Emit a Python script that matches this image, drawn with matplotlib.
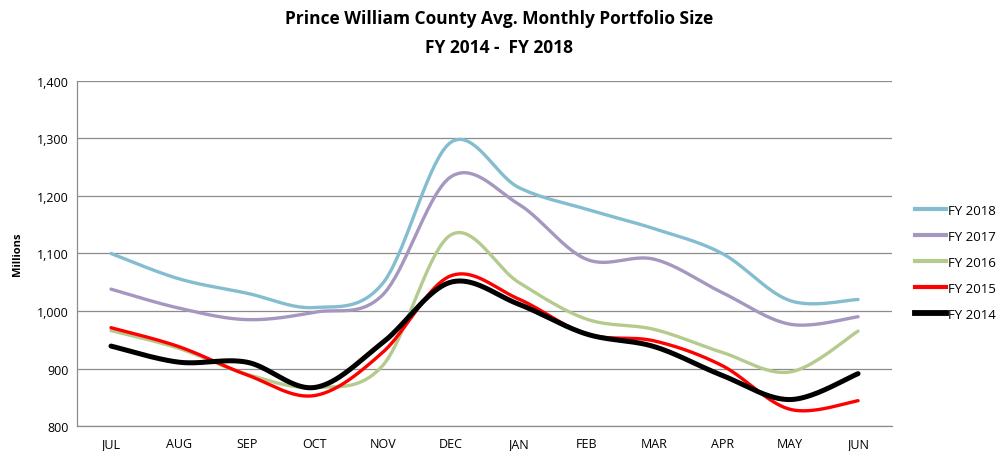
import numpy as np
import matplotlib
matplotlib.use("Agg")
import matplotlib.pyplot as plt
from matplotlib.lines import Line2D

plt.rcParams['font.family'] = ['Open Sans', 'DejaVu Sans']

months = ["JUL", "AUG", "SEP", "OCT", "NOV", "DEC", "JAN", "FEB", "MAR", "APR", "MAY", "JUN"]
fy2018 = [1100, 1056, 1031, 1006, 1048, 1293, 1215, 1177, 1143, 1100, 1018, 1020]
fy2017 = [1038, 1005, 985, 998, 1028, 1233, 1186, 1090, 1090, 1032, 977, 990]
fy2016 = [966, 935, 890, 867, 905, 1132, 1050, 986, 968, 928, 894, 965]
fy2015 = [971, 938, 889, 853, 928, 1061, 1021, 960, 948, 905, 829, 844]
fy2014 = [939, 911, 911, 867, 945, 1050, 1012, 960, 938, 888, 846, 891]

series = [
    ("FY 2018", fy2018, "#84BDD0", 2.4),
    ("FY 2017", fy2017, "#A597BF", 2.4),
    ("FY 2016", fy2016, "#B4CB8D", 2.4),
    ("FY 2015", fy2015, "#FF0000", 2.4),
    ("FY 2014", fy2014, "#000000", 3.6),
]


def smooth(xs, ys, n=40):
    # Catmull-Rom style bezier smoothing (like Excel smoothed lines)
    xs = np.asarray(xs, float)
    ys = np.asarray(ys, float)
    px = np.concatenate([[xs[0]], xs, [xs[-1]]])
    py = np.concatenate([[ys[0]], ys, [ys[-1]]])
    outx, outy = [], []
    for i in range(1, len(px) - 2):
        p0 = np.array([px[i - 1], py[i - 1]])
        p1 = np.array([px[i], py[i]])
        p2 = np.array([px[i + 1], py[i + 1]])
        p3 = np.array([px[i + 2], py[i + 2]])
        c1 = p1 + (p2 - p0) / 6.0
        c2 = p2 - (p3 - p1) / 6.0
        t = np.linspace(0, 1, n)[:, None]
        b = ((1 - t) ** 3) * p1 + 3 * ((1 - t) ** 2) * t * c1 + 3 * (1 - t) * t ** 2 * c2 + t ** 3 * p2
        outx.extend(b[:, 0])
        outy.extend(b[:, 1])
    return np.array(outx), np.array(outy)


fig = plt.figure(figsize=(9.98, 4.52), dpi=100)
ax = fig.add_axes([0.0772, 0.0553, 0.8166, 0.7633])

x = np.arange(len(months))
handles = []
for name, vals, color, lw in series:
    sx, sy = smooth(x, vals)
    ax.plot(sx, sy, color=color, lw=lw, solid_capstyle='round', zorder=3)
    handles.append(Line2D([0], [0], color=color, lw=lw + 0.6, label=name))

ax.set_xlim(-0.5, 11.5)
ax.set_ylim(800, 1400)
ax.set_yticks(range(800, 1401, 100))
ax.set_yticklabels([f"{v:,}" for v in range(800, 1401, 100)], fontsize=9)
ax.set_xticks(x)
ax.set_xticklabels(months, fontsize=9)
ax.tick_params(axis='both', length=0, pad=8)
ax.tick_params(axis='y', pad=6)
ax.grid(axis='y', color='#8C8C8C', lw=0.9)
ax.set_axisbelow(True)
for s in ['top', 'right']:
    ax.spines[s].set_visible(False)
for s in ['left', 'bottom']:
    ax.spines[s].set_color('#8C8C8C')
    ax.spines[s].set_linewidth(0.9)

ax.set_ylabel("Millions", fontsize=8, fontweight='bold', labelpad=10)

fig.text(0.5, 0.957, "Prince William County Avg. Monthly Portfolio Size", ha='center', va='center',
         fontsize=12.5, fontweight='bold')
fig.text(0.5, 0.893, "FY 2014 -  FY 2018", ha='center', va='center', fontsize=12.5, fontweight='bold')

fig.legend(handles=handles, loc='upper left', bbox_to_anchor=(0.912, 0.558), frameon=False,
           fontsize=9.5, handlelength=2.3, handletextpad=0.15, labelspacing=0.98, borderaxespad=0)

fig.savefig("out.png", dpi=100)
